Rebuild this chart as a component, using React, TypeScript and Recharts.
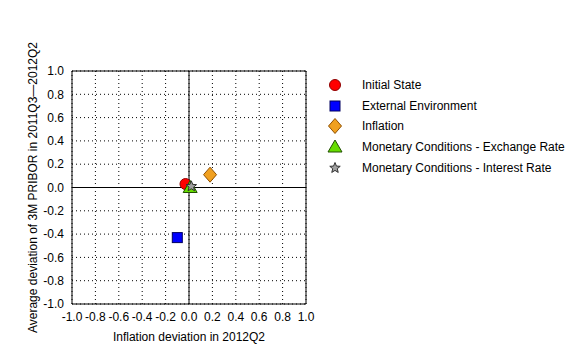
import React from "react";
import {
  ScatterChart,
  Scatter,
  XAxis,
  YAxis,
  CartesianGrid,
  ReferenceLine,
} from "recharts";

const seriesNames = [
  "Initial State",
  "External Environment",
  "Inflation",
  "Monetary Conditions - Exchange Rate",
  "Monetary Conditions - Interest Rate",
];
const xValues = [-0.03, -0.1, 0.18, 0.01, 0.02];
const yValues = [0.03, -0.43, 0.11, 0.0, 0.01];
const tickValues = [-1, -0.8, -0.6, -0.4, -0.2, 0, 0.2, 0.4, 0.6, 0.8, 1];

const fills = ["#ff0000", "#0000ff", "#f0a020", "#66dd00", "#a0a0a0"];
const strokes = ["#900000", "#000060", "#905000", "#205000", "#303030"];
const kinds = ["circle", "square", "diamond", "triangle", "star"];

const FONT = "'Liberation Sans', Arial, sans-serif";

function Marker({ kind, cx, cy, fill, stroke }: any) {
  if (kind === "circle") {
    return <circle cx={cx} cy={cy} r={5.5} fill={fill} stroke={stroke} strokeWidth={1} />;
  }
  if (kind === "square") {
    return <rect x={cx - 5} y={cy - 5} width={10} height={10} fill={fill} stroke={stroke} strokeWidth={1} />;
  }
  if (kind === "diamond") {
    const pts = `${cx},${cy - 7.5} ${cx + 6.5},${cy} ${cx},${cy + 7.5} ${cx - 6.5},${cy}`;
    return <polygon points={pts} fill={fill} stroke={stroke} strokeWidth={1} />;
  }
  if (kind === "triangle") {
    const pts = `${cx},${cy - 7} ${cx + 7},${cy + 5} ${cx - 7},${cy + 5}`;
    return <polygon points={pts} fill={fill} stroke={stroke} strokeWidth={1} />;
  }
  const pts: string[] = [];
  for (let i = 0; i < 10; i++) {
    const r = i % 2 === 0 ? 5.5 : 2.4;
    const a = -Math.PI / 2 + (i * Math.PI) / 5;
    pts.push(`${cx + r * Math.cos(a)},${cy + r * Math.sin(a)}`);
  }
  return <polygon points={pts.join(" ")} fill={fill} stroke={stroke} strokeWidth={1} />;
}

const fmt = (v: number) => v.toFixed(1);

export default function App() {
  const tickStyle = { fill: "#000", fontSize: 12, fontFamily: FONT };
  return (
    <div style={{ position: "absolute", left: 0, top: 0, width: 580, height: 360, background: "#fff", fontFamily: FONT }}>
      <ScatterChart width={580} height={360} margin={{ top: 71, right: 274, bottom: 11, left: 22 }}>
        <CartesianGrid
          xAxisId="x"
          yAxisId="y"
          stroke="#000"
          strokeDasharray="1 3"
          horizontalValues={tickValues}
          verticalValues={tickValues}
        />
        <XAxis
          xAxisId="x"
          type="number"
          dataKey="x"
          domain={[-1, 1]}
          ticks={tickValues}
          allowDataOverflow
          tickFormatter={fmt}
          tick={tickStyle}
          tickLine={false}
          axisLine={{ stroke: "#000" }}
          height={45}
          interval={0}
          label={{ value: "Inflation deviation in 2012Q2", position: "insideBottom", offset: 8, fill: "#000", fontSize: 12 }}
        />
        <XAxis xAxisId="xb" type="number" orientation="bottom" mirror domain={[-1, 1]} ticks={tickValues} allowDataOverflow tick={false} tickSize={4} tickLine={{ stroke: "#000" }} axisLine={false} interval={0} />
        <XAxis xAxisId="xt" type="number" orientation="top" mirror domain={[-1, 1]} ticks={tickValues} allowDataOverflow tick={false} tickSize={4} tickLine={{ stroke: "#000" }} axisLine={{ stroke: "#000" }} interval={0} />
        <YAxis
          yAxisId="y"
          type="number"
          dataKey="y"
          domain={[-1, 1]}
          ticks={tickValues}
          allowDataOverflow
          tickFormatter={fmt}
          tick={tickStyle}
          tickLine={false}
          axisLine={{ stroke: "#000" }}
          width={50}
          interval={0}
          label={{
            value: "Average deviation of 3M PRIBOR in 2011Q3\u20142012Q2",
            angle: -90,
            position: "insideLeft",
            offset: 11,
            fill: "#000",
            fontSize: 12,
            style: { textAnchor: "middle" },
          }}
        />
        <YAxis yAxisId="yl" type="number" orientation="left" mirror domain={[-1, 1]} ticks={tickValues} allowDataOverflow tick={false} tickSize={4} tickLine={{ stroke: "#000" }} axisLine={false} interval={0} />
        <YAxis yAxisId="yr" type="number" orientation="right" mirror domain={[-1, 1]} ticks={tickValues} allowDataOverflow tick={false} tickSize={4} tickLine={{ stroke: "#000" }} axisLine={{ stroke: "#000" }} interval={0} />
        <ReferenceLine xAxisId="x" yAxisId="y" x={0} stroke="#000" />
        <ReferenceLine xAxisId="x" yAxisId="y" y={0} stroke="#000" />
        {seriesNames.map((name, i) => (
          <Scatter
            key={name}
            name={name}
            xAxisId="x"
            yAxisId="y"
            data={[{ x: xValues[i], y: yValues[i] }]}
            isAnimationActive={false}
            shape={(p: any) => <Marker kind={kinds[i]} cx={p.cx} cy={p.cy} fill={fills[i]} stroke={strokes[i]} />}
          />
        ))}
      </ScatterChart>
      <div style={{ position: "absolute", left: 326, top: 75 }}>
        {seriesNames.map((name, i) => (
          <div key={name} style={{ display: "flex", alignItems: "center", height: 20.6 }}>
            <svg width={18} height={18} style={{ display: "block" }}>
              <Marker kind={kinds[i]} cx={9} cy={9} fill={fills[i]} stroke={strokes[i]} />
            </svg>
            <span style={{ marginLeft: 18, fontSize: 12, color: "#000", whiteSpace: "nowrap" }}>{name}</span>
          </div>
        ))}
      </div>
    </div>
  );
}
